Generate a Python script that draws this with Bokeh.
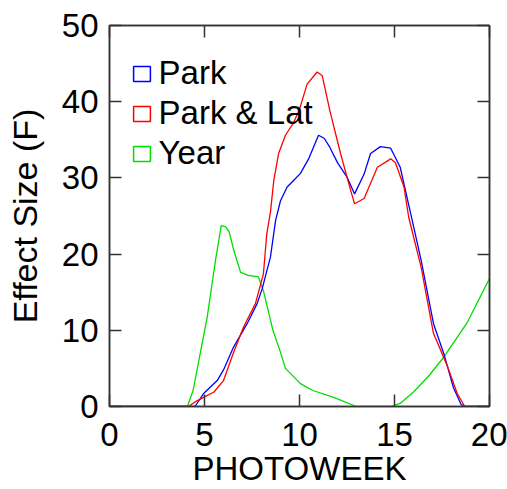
from bokeh.plotting import figure
from bokeh.models import (Legend, LegendItem, LinearAxis, FixedTicker, Range1d,
                          ColumnDataSource)
from bokeh.embed import file_html
from bokeh.resources import INLINE

# ---- data ----
series_names = ["Park", "Park & Lat", "Year"]
series_colors = ["#0000ff", "#ff0000", "#00dd00"]

park_x = [0, 4.5, 4.95, 5.67, 6.0, 6.53, 7.25, 7.77, 8.04, 8.47, 8.74, 9.0, 9.35,
          9.7, 10.05, 10.5, 11.0, 11.3, 11.6, 12.0, 12.5, 12.9, 13.4, 13.74, 14.26,
          14.8, 15.3, 15.9, 16.4, 17.05, 17.6, 18.1, 18.5, 18.65, 20]
park_y = [0, 0, 1.7, 3.4, 4.8, 7.8, 10.9, 13.5, 15.5, 19.6, 24.4, 27.0, 28.8,
          29.7, 30.6, 32.6, 35.6, 35.2, 34.0, 32.0, 30.1, 27.9, 30.5, 33.2, 34.1,
          33.9, 31.4, 24.8, 19.2, 10.9, 6.9, 2.5, 0.3, 0, 0]

lat_x = [0, 4.15, 4.5, 4.95, 5.5, 6.0, 6.5, 7.05, 7.68, 8.1, 8.28, 8.47, 8.65,
         8.9, 9.26, 9.7, 10.0, 10.4, 10.93, 11.2, 11.6, 12.16, 12.7, 12.9, 13.4,
         14.1, 14.8, 15.05, 15.5, 15.75, 16.4, 17.05, 17.8, 18.3, 18.7, 20]
lat_y = [0, 0, 0.6, 1.2, 1.9, 3.4, 6.9, 10.4, 13.5, 17.4, 22.7, 25.5, 29.7,
         33.2, 35.6, 37.3, 39.0, 42.3, 43.9, 43.4, 38.8, 33.2, 28.3, 26.6, 27.3,
         31.4, 32.5, 32.0, 28.8, 24.8, 18.3, 9.6, 5.2, 1.7, 0, 0]

year_x = [0, 4.1, 4.4, 4.8, 5.14, 5.58, 5.88, 6.1, 6.3, 6.54, 6.9, 7.3, 7.84,
          8.1, 8.6, 9.0, 9.26, 10.05, 10.7, 11.8, 13.0, 14.8, 15.3, 16.0, 16.8,
          17.6, 18.8, 20]
year_y = [0, 0, 2.1, 7.3, 11.7, 19.2, 23.75, 23.6, 22.9, 20.5, 17.6, 17.2, 17.0,
          15.2, 10.0, 7.1, 5.0, 3.0, 2.1, 1.2, 0, 0, 0.4, 1.9, 4.0,
          6.5, 10.9, 16.8]

x_ticks = [0, 5, 10, 15, 20]
y_ticks = [0, 10, 20, 30, 40, 50]

FONT = "Liberation Sans"
FS = "33px"

p = figure(width=507, height=489, output_backend="svg", toolbar_location=None,
           x_range=Range1d(0, 20), y_range=Range1d(0, 50),
           x_axis_type=None, y_axis_type=None,
           min_border_left=109, min_border_right=18, min_border_top=25,
           min_border_bottom=83)
p.grid.visible = False
p.outline_line_color = "#333333"
p.outline_line_width = 1.5
p.background_fill_color = "white"
p.border_fill_color = "white"

bottom_ax = LinearAxis(ticker=FixedTicker(ticks=x_ticks), axis_label="PHOTOWEEK")
left_ax = LinearAxis(ticker=FixedTicker(ticks=y_ticks), axis_label="Effect Size (F)")
top_ax = LinearAxis(ticker=FixedTicker(ticks=x_ticks), major_label_text_font_size="0px",
                    major_label_text_alpha=0)
right_ax = LinearAxis(ticker=FixedTicker(ticks=y_ticks), major_label_text_font_size="0px",
                      major_label_text_alpha=0)
p.add_layout(bottom_ax, "below")
p.add_layout(left_ax, "left")
p.add_layout(top_ax, "above")
p.add_layout(right_ax, "right")

for ax in [bottom_ax, left_ax, top_ax, right_ax]:
    ax.major_tick_in = 12
    ax.major_tick_out = 0
    ax.minor_tick_line_color = None
    ax.axis_line_color = "#333333"
    ax.axis_line_width = 1.5
    ax.major_tick_line_color = "#333333"
    ax.major_tick_line_width = 1.5
    ax.major_label_text_font = FONT
    ax.axis_label_text_font = FONT
    ax.axis_label_text_font_style = "normal"
    ax.axis_label_text_font_size = FS
    ax.major_label_text_color = "black"
    ax.axis_label_text_color = "black"
top_ax.major_label_standoff = 0
right_ax.major_label_standoff = 0

bottom_ax.major_label_text_font_size = FS
left_ax.major_label_text_font_size = FS
left_ax.axis_label_text_font_size = "34px"
bottom_ax.major_label_standoff = 16
bottom_ax.axis_label_standoff = 1
left_ax.major_label_standoff = 11
left_ax.axis_label_standoff = 15

p.line(year_x, year_y, color=series_colors[2], line_width=1.3)
p.line(park_x, park_y, color=series_colors[0], line_width=1.3)
p.line(lat_x, lat_y, color=series_colors[1], line_width=1.3)

items = []
nan = float("nan")
for name, col in zip(series_names, series_colors):
    src = ColumnDataSource(dict(left=[nan], right=[nan], top=[nan], bottom=[nan]))
    r = p.quad(left="left", right="right", top="top", bottom="bottom", source=src,
               fill_color=None, line_color=col, line_width=1.5)
    items.append(LegendItem(label=name, renderers=[r]))

legend = Legend(items=items, location=(21.6, 234), border_line_color=None,
                background_fill_alpha=0, glyph_width=21, glyph_height=19,
                label_text_font=FONT, label_text_font_size=FS, label_standoff=7,
                label_text_color="black",
                spacing=2, padding=10, margin=0)
p.add_layout(legend, "center")

open("out.html", "w").write(file_html(p, INLINE))
